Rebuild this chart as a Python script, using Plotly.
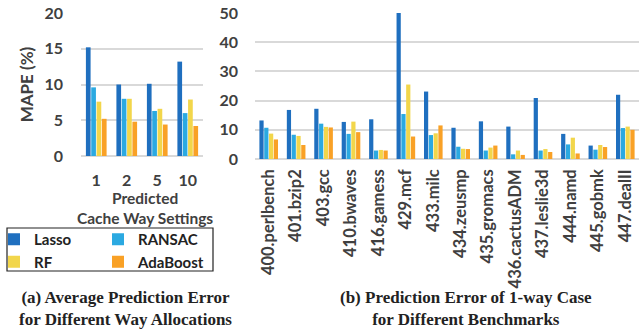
import plotly.graph_objects as go

W, H = 639, 333

# Left chart: average MAPE by predicted cache way setting
ways = ["1", "2", "5", "10"]
left_lasso = [15.2, 10.0, 10.1, 13.2]
left_ransac = [9.6, 8.0, 6.3, 6.0]
left_rf = [7.6, 8.0, 6.6, 7.9]
left_ada = [5.2, 4.8, 4.4, 4.2]

# Right chart: 1-way case per benchmark
benchmarks = ["400.perlbench", "401.bzip2", "403.gcc", "410.bwaves", "416.gamess",
              "429.mcf", "433.milc", "434.zeusmp", "435.gromacs", "436.cactusADM",
              "437.leslie3d", "444.namd", "445.gobmk", "447.dealII"]
right_lasso = [13.2, 16.8, 17.2, 12.7, 13.6, 50.0, 23.1, 10.7, 12.9, 11.1, 20.9, 8.6, 4.6, 22.0]
right_ransac = [10.7, 8.3, 12.1, 8.6, 2.9, 15.4, 8.2, 4.2, 2.9, 1.6, 2.9, 5.0, 3.2, 10.6]
right_rf = [8.7, 7.9, 11.0, 12.8, 3.1, 25.5, 8.8, 3.5, 3.9, 2.9, 3.4, 7.3, 4.8, 11.1]
right_ada = [6.7, 4.8, 10.8, 9.2, 2.9, 7.7, 11.5, 3.4, 4.6, 1.4, 2.4, 1.9, 4.1, 10.0]

names = ["Lasso", "RANSAC", "RF", "AdaBoost"]
colors = ["#1F6FBF", "#2BA9E1", "#F2D64B", "#F9A126"]

left_vals = [left_lasso, left_ransac, left_rf, left_ada]
right_vals = [right_lasso, right_ransac, right_rf, right_ada]

fig = go.Figure()
legend_ids = ["legend", "legend2", "legend", "legend2"]
for i in range(4):
    fig.add_trace(go.Bar(x=ways, y=left_vals[i], name=names[i], marker_color=colors[i],
                         marker_line_width=0, xaxis="x", yaxis="y",
                         legend=legend_ids[i], showlegend=True))
for i in range(4):
    fig.add_trace(go.Bar(x=benchmarks, y=right_vals[i], name=names[i], marker_color=colors[i],
                         marker_line_width=0, xaxis="x2", yaxis="y2", showlegend=False))

tick_font = dict(family="Lato", size=16, color="#404040", weight="bold")
grid = "#D9D9D9"
leg_font = dict(family="Lato", size=15, color="#222222", weight="bold")

fig.update_layout(
    width=W, height=H,
    margin=dict(l=0, r=0, t=0, b=0, autoexpand=False),
    plot_bgcolor="white", paper_bgcolor="white",
    barmode="group", bargap=0.3, bargroupgap=0.12,
    xaxis=dict(domain=[81 / W, 203 / W], anchor="y", tickfont=tick_font,
               automargin=False, showline=False, ticks="", ticklabelstandoff=13),
    yaxis=dict(domain=[(H - 156) / H, (H - 13) / H], anchor="x", range=[0, 20],
               tickvals=[0, 5, 10, 15, 20], tickfont=tick_font, showgrid=True, automargin=False,
               gridcolor=grid, gridwidth=1.5, zeroline=True, zerolinecolor=grid,
               zerolinewidth=1.5, ticklabelstandoff=17,
               title=dict(text="MAPE (%)", font=dict(family="Lato", size=17, color="#404040", weight="bold"),
                          standoff=6)),
    xaxis2=dict(domain=[255 / W, 1.0], anchor="y2", tickangle=-90, automargin=False,
                tickfont=dict(family="Lato", size=16.5, color="#404040", weight="bold"),
                showline=False, ticks="", ticklabelstandoff=6),
    yaxis2=dict(domain=[(H - 159) / H, (H - 13) / H], anchor="x2", range=[0, 50],
                tickvals=[0, 10, 20, 30, 40, 50], automargin=False,
                tickfont=dict(family="Lato", size=16, color="#404040", weight="bold"),
                showgrid=True, gridcolor=grid, gridwidth=1.5, zeroline=True,
                zerolinecolor=grid, zerolinewidth=1.5, ticklabelstandoff=16),
    legend=dict(x=-6 / W, y=(H - 223) / H, xanchor="left", yanchor="top",
                font=leg_font, bgcolor="rgba(0,0,0,0)", tracegroupgap=0, itemwidth=30),
    legend2=dict(x=98 / W, y=(H - 223) / H, xanchor="left", yanchor="top",
                 font=leg_font, bgcolor="rgba(0,0,0,0)", tracegroupgap=0, itemwidth=30),
    shapes=[dict(type="rect", xref="paper", yref="paper",
                 x0=7 / W, x1=213 / W, y0=(H - 271) / H, y1=(H - 228) / H,
                 line=dict(color="#222222", width=1.2))],
    annotations=[
        dict(text="Predicted<br>Cache Way Settings", x=145 / W, y=(H - 187) / H,
             xref="paper", yref="paper", xanchor="center", yanchor="top", showarrow=False,
             font=dict(family="Lato", size=15.5, color="#404040", weight="bold")),
        dict(text="(a) Average Prediction Error<br>for Different Way Allocations",
             x=125 / W, y=(H - 286) / H, xref="paper", yref="paper", xanchor="center",
             yanchor="top", showarrow=False,
             font=dict(family="Liberation Serif", size=17, color="#222222", weight="bold")),
        dict(text="(b) Prediction Error of 1-way Case<br>for Different Benchmarks",
             x=466 / W, y=(H - 286) / H, xref="paper", yref="paper", xanchor="center",
             yanchor="top", showarrow=False,
             font=dict(family="Liberation Serif", size=17, color="#222222", weight="bold")),
    ],
)

fig.write_html("out.html", config={"displayModeBar": False},
               post_script="document.body.style.margin='0';")
